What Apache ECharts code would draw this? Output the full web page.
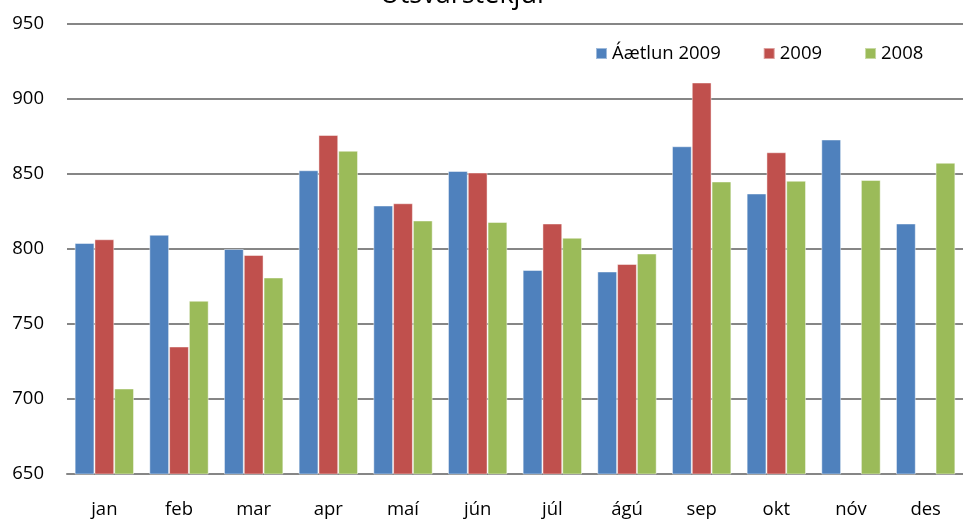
<!DOCTYPE html>
<html>
<head>
<meta charset="utf-8">
<script src="https://cdn.jsdelivr.net/npm/echarts@6/dist/echarts.min.js"></script>
<style>
  html, body { margin: 0; padding: 0; background: #fff; }
  #chart { width: 963px; height: 520px; }
</style>
</head>
<body>
<div id="chart"></div>
<script>
const months = ["jan", "feb", "mar", "apr", "maí", "jún", "júl", "ágú", "sep", "okt", "nóv", "des"];
const plan2009 = [804, 809.5, 800, 852.5, 829, 852, 786, 785, 868.5, 837, 873, 817];
const actual2009 = [806.5, 735, 796, 876, 830.5, 851, 817, 790, 911, 864.5, null, null];
const actual2008 = [707, 765.5, 781, 865.5, 819, 818, 807.5, 797, 845, 845.5, 846, 857.5];
const seriesNames = ["Áætlun 2009", "2009", "2008"];
const colors = ["#4F81BD", "#C0504D", "#9BBB59"];

const font = "'Open Sans', 'DejaVu Sans', sans-serif";
const chart = echarts.init(document.getElementById("chart"));

const barStyle = (color) => ({
  color: color,
  borderColor: "rgba(255,255,255,0.45)",
  borderWidth: 1,
});

chart.setOption({
  animation: false,
  title: {
    text: "Útsvarstekjur",
    left: 459,
    textAlign: "center",
    top: -23,
    textStyle: { fontFamily: font, fontSize: 27, fontWeight: "normal", color: "#000" },
  },
  legend: {
    data: seriesNames,
    left: 590,
    top: 39,
    itemWidth: 11,
    itemHeight: 11,
    itemGap: 42,
    icon: "rect",
    textStyle: { fontFamily: font, fontSize: 18.5, color: "#000" },
  },
  grid: { left: 67, top: 24, width: 906, height: 450 },
  xAxis: {
    type: "category",
    data: months,
    axisLine: { lineStyle: { color: "#868686", width: 2 } },
    axisTick: { show: false },
    axisLabel: { fontFamily: font, fontSize: 18.5, color: "#000", margin: 26 },
  },
  yAxis: {
    type: "value",
    min: 650,
    max: 950,
    interval: 50,
    axisLine: { show: false },
    axisTick: { show: false },
    axisLabel: { fontFamily: font, fontSize: 18.5, color: "#000", margin: 23 },
    splitLine: { lineStyle: { color: "#868686", width: 2 } },
  },
  series: [
    { name: seriesNames[0], type: "bar", data: plan2009, itemStyle: barStyle(colors[0]), barGap: "0%", barCategoryGap: "20.5%" },
    { name: seriesNames[1], type: "bar", data: actual2009, itemStyle: barStyle(colors[1]), barGap: "0%", barCategoryGap: "20.5%" },
    { name: seriesNames[2], type: "bar", data: actual2008, itemStyle: barStyle(colors[2]), barGap: "0%", barCategoryGap: "20.5%" },
  ],
});
</script>
</body>
</html>
